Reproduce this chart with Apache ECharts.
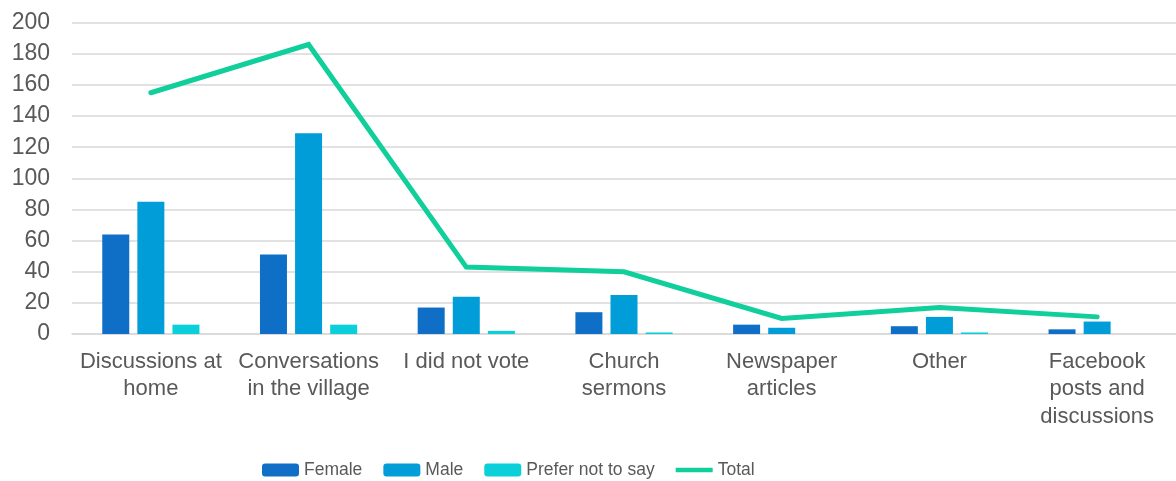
<!DOCTYPE html>
<html>
<head>
<meta charset="utf-8">
<script src="https://cdn.jsdelivr.net/npm/echarts@6/dist/echarts.min.js"></script>
<style>
  html, body { margin: 0; padding: 0; background: #ffffff; }
  #chart { width: 1176px; height: 481px; }
</style>
</head>
<body>
<div id="chart"></div>
<script>
// Sources of information, split by respondent gender
const categories = [
  'Discussions at\nhome',
  'Conversations\nin the village',
  'I did not vote',
  'Church\nsermons',
  'Newspaper\narticles',
  'Other',
  'Facebook\nposts and\ndiscussions'
];
const female = [64, 51, 17, 14, 6, 5, 3];
const male = [85, 129, 24, 25, 4, 11, 8];
const preferNotToSay = [6, 6, 2, 1, 0, 1, 0];
const total = [155, 186, 43, 40, 10, 17, 11];
const yTicks = [0, 20, 40, 60, 80, 100, 120, 140, 160, 180, 200];

const textColor = '#595959';
const gridColor = '#d9d9d9';
const font = '"Liberation Sans", Arial, sans-serif';

const chart = echarts.init(document.getElementById('chart'), null, { renderer: 'canvas' });

const barSeries = (name, data, color) => ({
  name,
  type: 'bar',
  data,
  barWidth: 27,
  barGap: '30%',
  itemStyle: { color },
  z: 2
});

chart.setOption({
  animation: false,
  backgroundColor: '#ffffff',
  grid: { left: 72, right: -7, top: 22.7, bottom: 147, containLabel: false },
  legend: {
    left: 257,
    top: 456,
    itemWidth: 37,
    itemHeight: 13,
    itemGap: 21,
    textStyle: { color: textColor, fontSize: 17.5, fontFamily: font },
    data: [
      { name: 'Female' },
      { name: 'Male' },
      { name: 'Prefer not to say' },
      { name: 'Total', icon: 'path://M0,0 L40,0 L40,5 L0,5 Z' }
    ]
  },
  xAxis: {
    type: 'category',
    data: categories,
    axisTick: { show: false },
    axisLine: { show: true, lineStyle: { color: gridColor, width: 1.5 } },
    axisLabel: {
      color: textColor,
      fontSize: 22,
      fontFamily: font,
      lineHeight: 27.5,
      margin: 14,
      interval: 0,
      align: 'center'
    }
  },
  yAxis: {
    type: 'value',
    min: yTicks[0],
    max: yTicks[yTicks.length - 1],
    interval: yTicks[1] - yTicks[0],
    axisLine: { show: false },
    axisTick: { show: false },
    splitLine: { lineStyle: { color: gridColor, width: 1.5 } },
    axisLabel: { color: textColor, fontSize: 23, fontFamily: font, margin: 22 }
  },
  series: [
    barSeries('Female', female, '#0F6FC6'),
    barSeries('Male', male, '#009DD9'),
    barSeries('Prefer not to say', preferNotToSay, '#0BD0D9'),
    {
      name: 'Total',
      type: 'line',
      data: total,
      symbol: 'none',
      itemStyle: { color: '#10CF9B' },
      lineStyle: { color: '#10CF9B', width: 5, cap: 'round', join: 'miter' },
      z: 5
    }
  ]
});
</script>
</body>
</html>
